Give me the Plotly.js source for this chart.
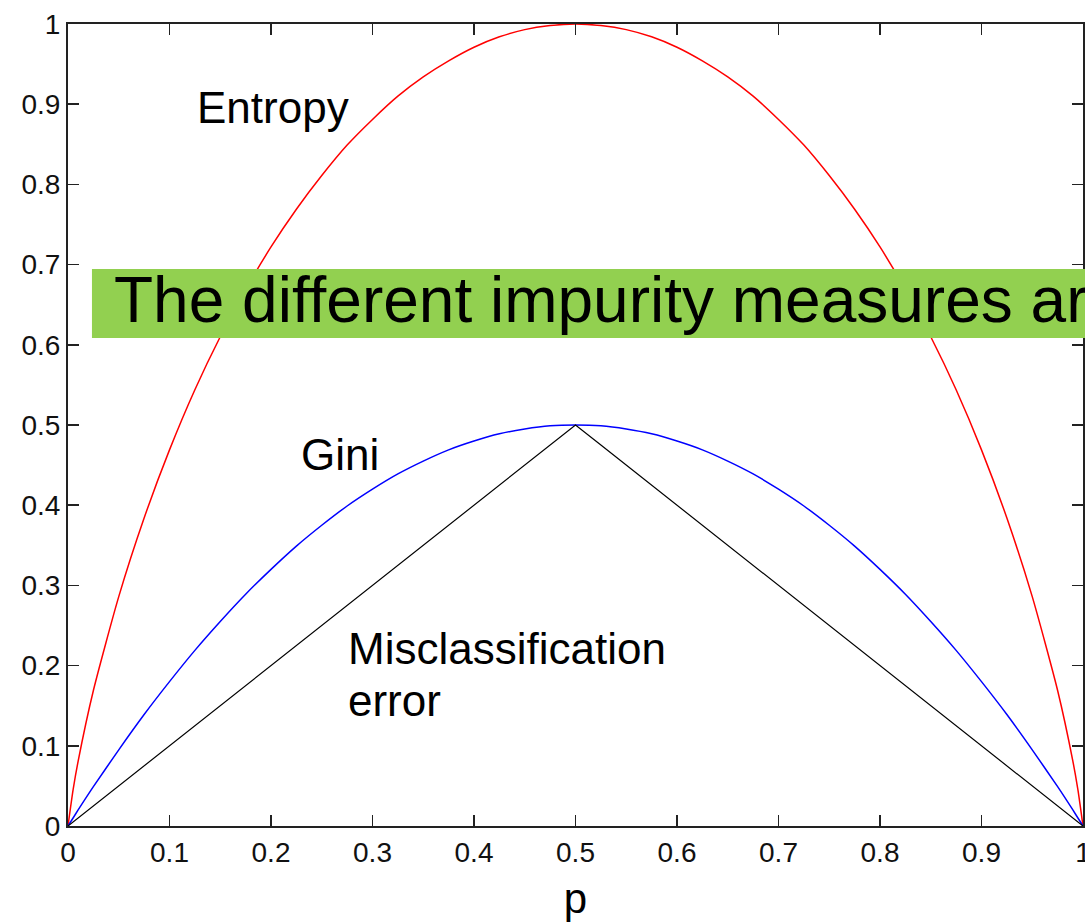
<!DOCTYPE html>
<html>
<head>
<meta charset="utf-8">
<script src="https://cdn.plot.ly/plotly-3.0.1.min.js"></script>
<style>html,body{margin:0;padding:0;background:#fff;overflow:hidden}#chart{width:1085px;height:922px}</style>
</head>
<body>
<div id="chart"></div>
<script>
// Sampled class proportion p
const pValues = [0, 0.005, 0.01, 0.025, 0.05, 0.075, 0.1, 0.125, 0.15, 0.175, 0.2, 0.225, 0.25, 0.275, 0.3, 0.325, 0.35, 0.375, 0.4, 0.425, 0.45, 0.475,
                 0.5,
                 0.525, 0.55, 0.575, 0.6, 0.625, 0.65, 0.675, 0.7, 0.725, 0.75, 0.775, 0.8, 0.825, 0.85, 0.875, 0.9, 0.925, 0.95, 0.975, 0.99, 0.995, 1];
// Values
const entropyValues = [0, 0.045, 0.081, 0.169, 0.286, 0.384, 0.469, 0.544, 0.610, 0.669, 0.722, 0.769, 0.811, 0.849, 0.881, 0.910, 0.934, 0.954, 0.971, 0.984, 0.993, 0.998,
                       1,
                       0.998, 0.993, 0.984, 0.971, 0.954, 0.934, 0.910, 0.881, 0.849, 0.811, 0.769, 0.722, 0.669, 0.610, 0.544, 0.469, 0.384, 0.286, 0.169, 0.081, 0.045, 0];
const giniValues = [0, 0.010, 0.020, 0.049, 0.095, 0.139, 0.180, 0.219, 0.255, 0.289, 0.320, 0.349, 0.375, 0.399, 0.420, 0.439, 0.455, 0.469, 0.480, 0.489, 0.495, 0.499,
                    0.5,
                    0.499, 0.495, 0.489, 0.480, 0.469, 0.455, 0.439, 0.420, 0.399, 0.375, 0.349, 0.320, 0.289, 0.255, 0.219, 0.180, 0.139, 0.095, 0.049, 0.020, 0.010, 0];
const misclassValues = [0, 0.005, 0.01, 0.025, 0.05, 0.075, 0.1, 0.125, 0.15, 0.175, 0.2, 0.225, 0.25, 0.275, 0.3, 0.325, 0.35, 0.375, 0.4, 0.425, 0.45, 0.475,
                        0.5,
                        0.475, 0.45, 0.425, 0.4, 0.375, 0.35, 0.325, 0.3, 0.275, 0.25, 0.225, 0.2, 0.175, 0.15, 0.125, 0.1, 0.075, 0.05, 0.025, 0.01, 0.005, 0];
// Tick labels
const tickValues = [0, 0.1, 0.2, 0.3, 0.4, 0.5, 0.6, 0.7, 0.8, 0.9, 1];
const tickLabels = ["0", "0.1", "0.2", "0.3", "0.4", "0.5", "0.6", "0.7", "0.8", "0.9", "1"];
// Text
const curveLabels = ["Entropy", "Gini", "Misclassification", "error"];
const bannerText = "The different impurity measures are consistent";

const FONT = '"Liberation Sans", Arial, Helvetica, sans-serif';

const traces = [
  {x: pValues, y: entropyValues, mode: 'lines', line: {color: '#ff0000', width: 1.5, shape: 'spline', smoothing: 0.6}, hoverinfo: 'skip'},
  {x: pValues, y: giniValues, mode: 'lines', line: {color: '#0000ff', width: 1.5, shape: 'spline', smoothing: 0.6}, hoverinfo: 'skip'},
  {x: pValues, y: misclassValues, mode: 'lines', line: {color: '#000000', width: 1.2}, hoverinfo: 'skip'}
];

const axisCommon = {
  range: [0, 1],
  tickmode: 'array',
  tickvals: tickValues,
  ticktext: tickLabels,
  ticks: 'inside',
  ticklen: 11,
  tickwidth: 1.5,
  tickcolor: '#222',
  showline: true,
  linecolor: '#222',
  linewidth: 2,
  mirror: 'ticks',
  showgrid: false,
  zeroline: false,
  automargin: false,
  ticklabeloverflow: 'allow',
  tickfont: {family: FONT, size: 28, color: '#111'}
};

const labelFont = {family: FONT, size: 44, color: '#000'};

const layout = {
  width: 1085,
  height: 922,
  margin: {l: 68, r: 2, t: 24, b: 96},
  paper_bgcolor: '#ffffff',
  plot_bgcolor: '#ffffff',
  showlegend: false,
  xaxis: Object.assign({}, axisCommon, {
    title: {text: 'p', font: {family: FONT, size: 42, color: '#000'}, standoff: 20}
  }),
  yaxis: Object.assign({}, axisCommon),
  shapes: [
    {type: 'rect', xref: 'paper', yref: 'paper', x0: 0.0236, x1: 1.1, y0: 0.6085, y1: 0.6945,
     fillcolor: '#92d050', line: {width: 0}, layer: 'above'}
  ],
  annotations: [
    {x: 0.125, y: 0.8965, xref: 'x', yref: 'y', text: curveLabels[0], showarrow: false, xanchor: 'left', yanchor: 'middle', font: labelFont},
    {x: 0.228, y: 0.4626, xref: 'x', yref: 'y', text: curveLabels[1], showarrow: false, xanchor: 'left', yanchor: 'middle', font: labelFont},
    {x: 0.274, y: 0.2213, xref: 'x', yref: 'y', text: curveLabels[2], showarrow: false, xanchor: 'left', yanchor: 'middle', font: labelFont},
    {x: 0.274, y: 0.157, xref: 'x', yref: 'y', text: curveLabels[3], showarrow: false, xanchor: 'left', yanchor: 'middle', font: labelFont},
    {x: 0.0433, y: 0.656, xref: 'x', yref: 'y', text: bannerText, showarrow: false, xanchor: 'left', yanchor: 'middle',
     font: {family: FONT, size: 64, color: '#000'}}
  ]
};

Plotly.newPlot('chart', traces, layout, {displayModeBar: false, staticPlot: true});
</script>
</body>
</html>
